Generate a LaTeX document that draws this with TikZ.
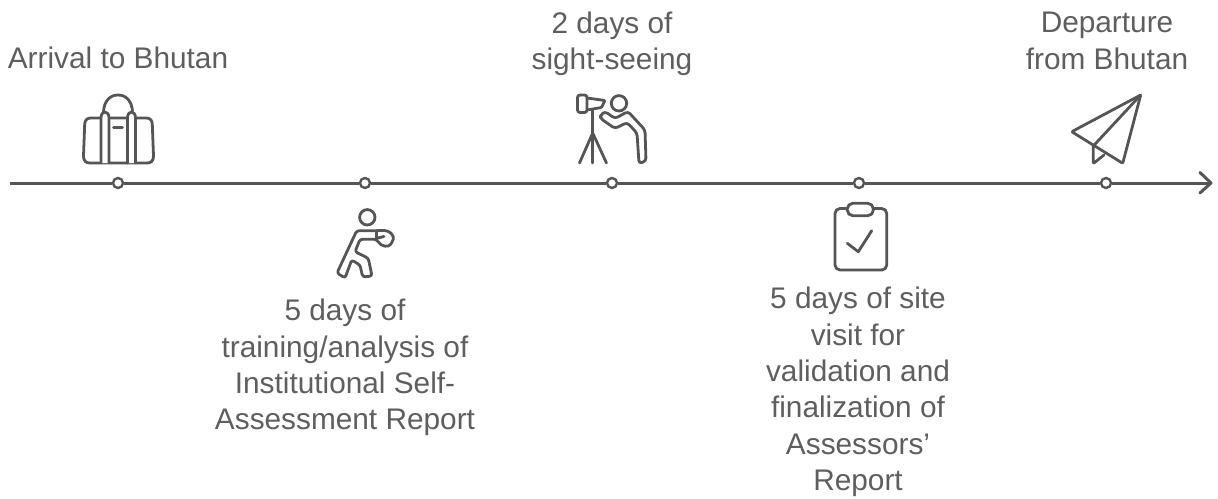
\documentclass[tikz,border=0pt]{standalone}
\usepackage{fontspec}
\setmainfont{Liberation Sans}
\definecolor{ink}{HTML}{555555}
\definecolor{txt}{HTML}{5E5E5E}
\tikzset{
  x=1pt,y=-1pt,
  label text/.style={text=txt,align=center,inner sep=0pt,font=\fontsize{29.8}{36.4}\selectfont},
  dot/.style={circle,draw=ink,line width=2.4pt,fill=white,minimum size=10pt,inner sep=0pt},
  axis/.style={draw=ink,line width=3pt},
  icon/.style={draw=ink,line width=2.8pt,line join=round,line cap=round},
}
\begin{document}
\begin{tikzpicture}
\useasboundingbox (0,0) rectangle (1218,498);
% timeline
\coordinate (start) at (10,183);
\coordinate (end) at (1211,183);
\node[dot] (d1) at (118,183) {};
\node[dot] (d2) at (365,183) {};
\node[dot] (d3) at (612,183) {};
\node[dot] (d4) at (859,183) {};
\node[dot] (d5) at (1106,183) {};
\draw[axis] (start) -- (d1);
\draw[axis] (d1) -- (d2);
\draw[axis] (d2) -- (d3);
\draw[axis] (d3) -- (d4);
\draw[axis] (d4) -- (d5);
\draw[axis] (d5) -- (end);
\draw[axis,line cap=round,line join=round] (1200,172.5) -- (end) -- (1200,193);
% labels
\node[label text] (t1) at (118,58) {Arrival to Bhutan};
\node[label text] (t2) at (345,367.5) {5 days of\\training/analysis of\\Institutional Self-\\Assessment Report};
\node[label text] (t3) at (612,43.5) {2 days of\\sight-seeing};
\node[label text] (t4) at (858,392) {5 days of site\\visit for\\validation and\\finalization of\\Assessors’\\Report};
\node[label text] (t5) at (1107,41) {Departure\\from Bhutan};
% bag
\draw[icon] (91,118) -- (146,118) .. controls (150,118) and (152,120) .. (152.3,124) -- (153.5,156) .. controls (153.5,161) and (151,163) .. (147,163) -- (90,163) .. controls (86,163) and (83.5,161) .. (83.5,156) -- (84.7,124) .. controls (85,120) and (87,118) .. (91,118) -- cycle;
\draw[icon] (103.5,112) .. controls (104,101) and (110,95) .. (118,95) .. controls (126,95) and (132,101) .. (132.5,112);
\draw[icon,fill=white] (101,163) -- (101,118) .. controls (101,110) and (109,110) .. (109,118) -- (109,163);
\draw[icon,fill=white] (127.5,163) -- (127.5,118) .. controls (127.5,110) and (135.5,110) .. (135.5,118) -- (135.5,163);
\draw[icon] (113.5,127.5) -- (122.5,127.5);
% boxer
\draw[icon] (367.3,217.3) circle (7.7);
\draw[icon,rounded corners=2.5pt] (356.7,230.7) -- (378,230.7) .. controls (390,229.5) and (395,236) .. (392,242) .. controls (389,247.5) and (381,247) .. (376.7,239.3) -- (360,239.3) -- (355,251.7) -- (368.3,258.3) -- (372,276) -- (362.7,277) -- (360,265) -- (351.7,260) -- (345,278) -- (337,273) -- cycle;
\draw[icon] (376.7,230.7) -- (376.7,239.3);
\draw[icon] (378,238) -- (384,236.5);
% sightseer
\draw[icon] (619,103.3) circle (7.7);
\draw[icon,rounded corners=2.5pt] (577.5,95) -- (587,95) -- (587,112.5) -- (577.5,112.5) -- cycle;
\draw[icon,rounded corners=1pt] (587,98) -- (605,100.5) -- (601.5,107.5) -- (587,110);
\draw[icon] (592.7,110.5) -- (592.7,163);
\draw[icon] (579.5,163) -- (592.7,133) -- (606.5,163);
\draw[icon,rounded corners=3pt] (600.5,115) -- (605,111.5) -- (615,118.5) -- (628,111.5) -- (645,130) -- (646,161) -- (639,163.5) -- (637,133) -- (627,122.5) -- (615,128.5) -- (600.5,118.5) -- cycle;
% clipboard
\draw[icon,rounded corners=5pt] (847.3,208.5) -- (835,208.5) -- (835,270) -- (886.7,270) -- (886.7,208.5) -- (873.3,208.5);
\draw[icon,rounded corners=5.5pt] (847.3,203.3) rectangle (873.3,215.7);
\draw[icon] (847.3,243.3) -- (858.3,251.7) -- (871.7,230.7);
% paper plane
\draw[icon,rounded corners=1pt] (1140.7,95) -- (1071.7,131.7) -- (1122.7,163.3) -- cycle;
\draw[icon] (1140.7,95) -- (1093.3,146);
\draw[icon,rounded corners=1pt] (1093.3,146) -- (1093.3,163.5) -- (1104,155);
\end{tikzpicture}
\end{document}
